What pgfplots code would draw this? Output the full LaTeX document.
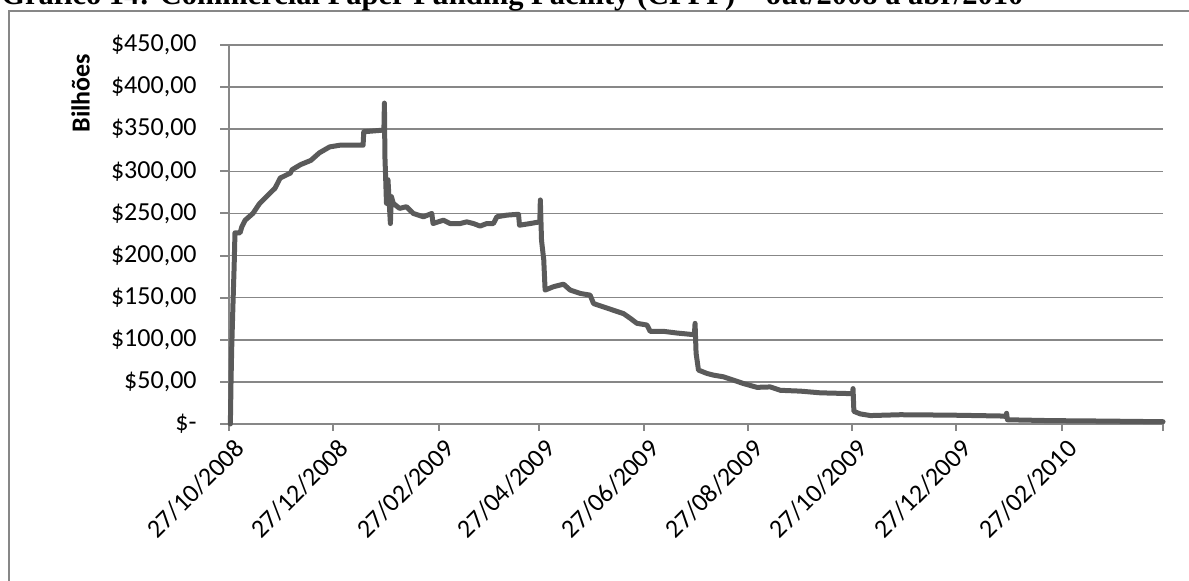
\documentclass[border=0pt]{standalone}
\usepackage{pgfplots}
\pgfplotsset{compat=1.18}
\usepackage{fontspec}
\setmainfont{Carlito}
\newfontfamily\titlefont{Liberation Serif}
\definecolor{seriesgray}{HTML}{5A5A5A}
\definecolor{gridgray}{HTML}{878787}
\begin{document}
\fontsize{13}{15.6}\selectfont
\begin{tikzpicture}
\useasboundingbox (0pt,0pt) rectangle (594.5pt,290.5pt);
\clip (0pt,0pt) rectangle (594.5pt,290.5pt);
% chart frame
\draw[gridgray, line width=1pt] (4.5pt,-20pt) -- (4.5pt,285pt) -- (620pt,285pt);
\node[anchor=base west, inner sep=0pt, font=\titlefont\bfseries\fontsize{15.25}{18}\selectfont] at (0.5pt,288pt)
  {Gráfico 14: Commercial Paper Funding Facility (CPFF) – out/2008 a abr/2010};
\begin{axis}[
  at={(114.5pt,78.5pt)}, anchor=south west,
  scale only axis, width=467pt, height=189.5pt,
  xmin=0, xmax=547.5, ymin=0, ymax=450,
  axis lines*=left,
  axis line style={-, gridgray, line width=1pt},
  ymajorgrids,
  major grid style={gridgray, line width=0.8pt},
  tick align=outside,
  major tick length=4.5pt,
  tick style={gridgray, line width=1pt},
  xtick style={/pgfplots/major tick length=3.5pt},
  ytick={0,50,...,450},
  yticklabels={{\$-},{\$50,00},{\$100,00},{\$150,00},{\$200,00},{\$250,00},{\$300,00},{\$350,00},{\$400,00},{\$450,00}},
  xtick={0,61,123,182,243,304,365,426,488,547.5},
  xticklabels={27/10/2008,27/12/2008,27/02/2009,27/04/2009,27/06/2009,27/08/2009,27/10/2009,27/12/2009,27/02/2010,{}},
  tick label style={text=black},
  yticklabel style={anchor=east, inner sep=0pt, xshift=-11.5pt},
  xticklabel style={rotate=45, anchor=east, inner sep=0pt, xshift=0pt, yshift=-8pt},
  ylabel={\bfseries Bilhões},
  ylabel style={at={(axis description cs:-0.159,0.873)}, anchor=center, rotate=0},
  clip=false,
]
\addplot[seriesgray, line width=2.5pt, line join=round, line cap=round] coordinates {
(0.8,0) (1.2,52) (1.6,91) (2.4,147) (3,186) (3.5,227) (6.5,227) (7.5,234) (9.5,242) (14,250)
(18,262) (24,274) (27,280) (30,292) (36,298) (37,302) (42,308) (48,313) (53,322) (59,329)
(65,331) (78.6,331) (79,347) (90.8,349) (91.1,381) (91.4,317) (91.8,294) (92.3,262) (93.2,290)
(94.6,238) (95.2,270) (96.3,262) (100,256) (104,258) (108,250) (114,246) (118.9,250) (119.6,238)
(125.7,242) (129.6,238) (135.5,238) (139.4,240) (143.3,238) (147.2,235) (151.1,238) (155,238)
(157,246) (162.9,248) (169.7,249) (170.3,236) (176.5,238) (182.2,240) (182.5,266) (183.2,218)
(184.5,195) (185.3,159) (190.2,163) (196.1,166) (200,159) (205.9,155) (211.7,153) (213.7,143)
(219.5,139) (225.4,135) (231.3,131) (235.2,125.5) (239.1,119.5) (245,117.5) (246.9,110)
(254.7,110) (262.6,108) (272.8,106) (273.2,119.5) (273.8,84) (275.2,64) (280.2,60) (284,58)
(289.9,56) (295.8,52) (301.6,48) (309.5,43.5) (317.3,44) (323.2,40) (335,39) (346.6,37)
(365.5,36) (365.8,42) (366.3,15) (370,12) (376,10) (393.5,11) (423,10.5) (452,9.5) (455.6,9)
(455.8,12.7) (456.3,5) (481.5,4) (511,3.5) (547.5,2.7)
};
\end{axis}
\end{tikzpicture}
\end{document}
